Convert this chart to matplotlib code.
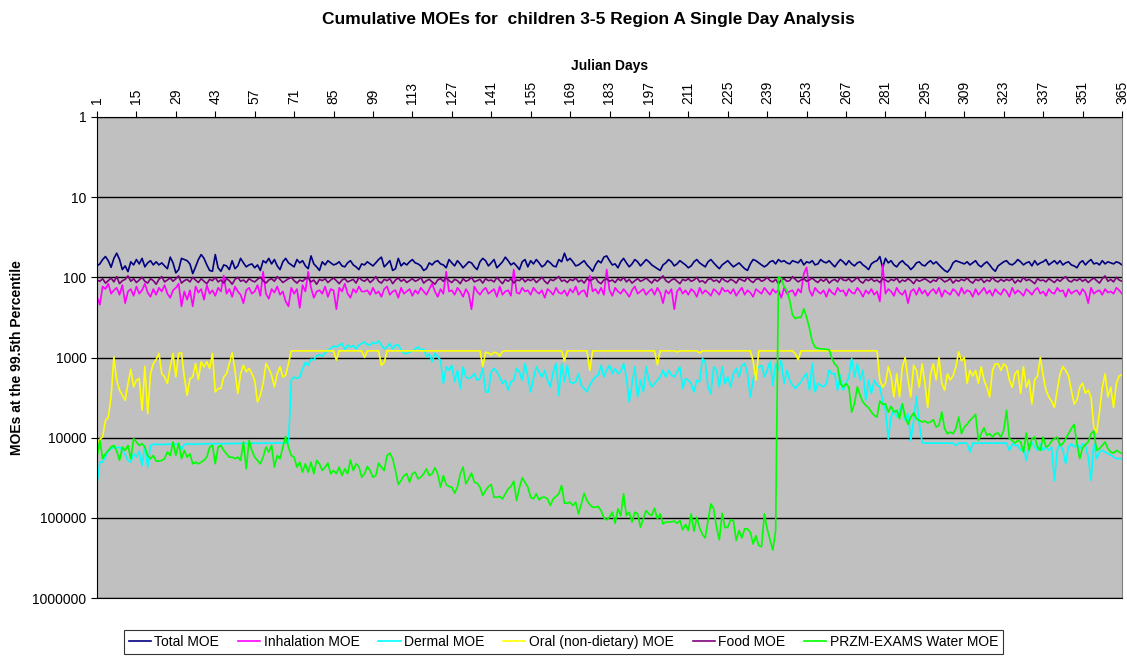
import matplotlib
matplotlib.use('Agg')
import matplotlib.pyplot as plt
import numpy as np
from matplotlib.ticker import FixedLocator, FuncFormatter, NullLocator

plt.rcParams['font.family'] = ['Liberation Sans', 'DejaVu Sans']

# Julian day MOE values, 365 per series
total_moe = [
    72, 68, 60, 55, 62, 75, 58, 50, 60, 80, 72, 85, 64, 70,
    60, 68, 58, 74, 66, 62, 70, 64, 70, 66, 72, 78, 56, 66,
    88, 80, 58, 60, 62, 68, 90, 74, 60, 52, 58, 70, 82, 84,
    52, 76, 84, 70, 72, 80, 62, 78, 72, 58, 66, 74, 70, 68,
    76, 70, 82, 62, 66, 58, 68, 60, 72, 80, 64, 58, 66, 70,
    74, 60, 66, 62, 72, 78, 54, 68, 74, 82, 64, 70, 62, 66,
    70, 68, 64, 72, 74, 66, 62, 70, 74, 80, 68, 70, 64, 68,
    72, 66, 60, 56, 74, 68, 62, 82, 78, 58, 72, 66, 70, 64,
    60, 66, 68, 72, 82, 78, 66, 70, 64, 62, 68, 70, 76, 60,
    66, 72, 62, 68, 76, 70, 64, 66, 74, 80, 64, 58, 62, 72,
    66, 60, 76, 70, 64, 56, 62, 70, 66, 72, 80, 64, 60, 74,
    62, 68, 60, 66, 74, 70, 62, 66, 72, 74, 60, 64, 50, 62,
    58, 64, 72, 70, 66, 62, 70, 76, 84, 70, 62, 66, 56, 54,
    62, 70, 68, 76, 64, 58, 66, 74, 68, 60, 64, 72, 66, 60,
    64, 70, 74, 78, 82, 70, 66, 60, 64, 72, 68, 62, 66, 70,
    76, 72, 64, 60, 66, 70, 74, 64, 60, 66, 72, 78, 70, 66,
    62, 68, 74, 70, 66, 72, 78, 82, 68, 60, 62, 66, 70, 74,
    70, 64, 62, 68, 60, 64, 62, 66, 68, 62, 64, 66, 60, 70,
    64, 66, 62, 70, 68, 60, 64, 66, 62, 68, 74, 66, 60, 64,
    70, 62, 68, 72, 66, 64, 70, 74, 80, 68, 64, 62, 55, 76,
    58, 66, 62, 70, 74, 66, 62, 68, 72, 80, 74, 66, 64, 70,
    72, 66, 62, 68, 64, 70, 76, 82, 86, 78, 66, 62, 64, 66,
    68, 64, 70, 66, 62, 70, 74, 68, 64, 70, 78, 84, 72, 68,
    64, 62, 68, 70, 66, 60, 64, 70, 66, 64, 72, 62, 70, 66,
    64, 60, 70, 66, 62, 68, 62, 70, 66, 64, 70, 72, 76, 66,
    62, 70, 64, 60, 68, 66, 70, 62, 68, 64, 66, 68, 64, 66,
    70,
]

inhalation_moe = [
    175, 220, 130, 140, 120, 160, 145, 135, 165, 125, 210, 150, 140, 170,
    130, 160, 145, 120, 155, 175, 140, 165, 135, 150, 125, 160, 180, 145,
    135, 120, 230, 150, 190, 145, 230, 130, 155, 140, 190, 125, 160, 145,
    170, 135, 150, 95, 160, 140, 175, 130, 150, 165, 210, 145, 135, 160,
    150, 125, 170, 85, 160, 185, 140, 155, 130, 165, 150, 200, 230, 135,
    160, 140, 240, 125, 150, 85, 135, 180, 150, 145, 160, 130, 175, 140,
    145, 250, 135, 150, 120, 160, 180, 140, 155, 130, 150, 150, 145, 165,
    135, 160, 150, 175, 140, 130, 165, 150, 145, 180, 135, 160, 150, 140,
    170, 145, 160, 135, 150, 165, 140, 120, 150, 175, 140, 160, 85, 150,
    145, 165, 135, 150, 175, 140, 160, 250, 130, 150, 165, 145, 135, 160,
    150, 140, 175, 130, 165, 150, 145, 170, 80, 155, 160, 135, 150, 145,
    165, 135, 150, 160, 145, 180, 140, 150, 165, 135, 155, 160, 145, 170,
    140, 155, 130, 165, 150, 145, 175, 95, 150, 140, 160, 135, 165, 80,
    145, 170, 135, 150, 160, 140, 155, 175, 145, 130, 160, 150, 140, 165,
    150, 140, 165, 135, 155, 210, 145, 160, 140, 250, 150, 135, 160, 145,
    165, 140, 150, 175, 135, 160, 145, 155, 170, 140, 150, 165, 135, 150,
    145, 160, 140, 170, 150, 135, 165, 145, 155, 175, 140, 150, 160, 135,
    150, 165, 140, 155, 145, 180, 135, 160, 150, 145, 170, 140, 155, 90,
    75, 145, 170, 135, 150, 160, 145, 175, 140, 155, 165, 135, 150, 145,
    170, 140, 155, 160, 135, 150, 175, 145, 160, 140, 165, 150, 200, 70,
    160, 140, 150, 170, 135, 155, 165, 145, 210, 150, 140, 165, 135, 160,
    145, 170, 150, 140, 160, 135, 175, 145, 155, 165, 140, 150, 170, 135,
    160, 145, 150, 175, 140, 165, 150, 135, 160, 145, 170, 140, 155, 165,
    140, 150, 175, 135, 160, 145, 155, 170, 140, 150, 165, 145, 135, 160,
    150, 170, 140, 155, 160, 135, 150, 145, 175, 140, 160, 150, 145, 165,
    140, 155, 210, 135, 160, 150, 145, 165, 140, 155, 150, 160, 135, 145,
    160,
]

dermal_moe = [
    37700, 20200, 20200, 17500, 14700, 13800, 13100, 13400, 13100, 14400, 16200, 19200, 20200, 15900,
    17500, 14700, 22200, 12500, 23300, 12500, 12100, 12100, 12100, 12200, 12100, 12100, 12100, 12000,
    12100, 12100, 14100, 12100, 12000, 12000, 12100, 12000, 12000, 12000, 11900, 12000, 11900, 11900,
    11900, 11900, 11900, 11900, 11800, 11900, 11800, 11800, 11800, 11800, 11800, 11800, 11800, 11700,
    11700, 11800, 11700, 11700, 11700, 11700, 11700, 11700, 11600, 11700, 11600, 11600, 11600, 1920,
    1750, 1830, 1750, 1400, 1150, 1250, 1050, 1070, 950, 930, 960, 880, 820, 770,
    720, 740, 700, 670, 800, 700, 740, 710, 780, 700, 670, 640, 690, 700,
    650, 670, 620, 700, 780, 740, 670, 780, 700, 700, 800, 890, 890, 860,
    830, 780, 740, 810, 780, 980, 900, 1130, 890, 980, 1080, 2110, 1310, 1440,
    1250, 2010, 1440, 2440, 1310, 1750, 1830, 1750, 1590, 1920, 1830, 1370, 2690, 2690,
    1510, 1370, 1510, 1750, 2110, 1920, 2560, 2010, 1920, 1370, 1510, 1920, 1190, 1750,
    2690, 1830, 1310, 1510, 1750, 1440, 1920, 2330, 1510, 1190, 2960, 1190, 2010, 1250,
    2010, 2110, 2010, 1590, 2220, 2440, 2690, 2220, 1920, 1750, 1660, 1250, 1750, 1440,
    1250, 1590, 1370, 1590, 1510, 1190, 1750, 3590, 2110, 1310, 3100, 1920, 2690, 1310,
    1920, 2330, 2110, 1920, 1750, 1440, 1750, 1440, 1660, 1750, 1510, 1310, 2440, 1830,
    1920, 2110, 2690, 1920, 2010, 1030, 1130, 2330, 2820, 1310, 1440, 2330, 1310, 2110,
    1750, 2330, 1590, 1370, 1750, 1250, 1190, 1590, 3100, 1920, 1440, 1310, 1250, 1750,
    1440, 1130, 2220, 1190, 1440, 1080, 2110, 1440, 1920, 2220, 2440, 2220, 2010, 1750,
    1590, 2560, 1190, 2690, 2110, 2220, 2330, 2110, 1440, 1590, 1590, 2560, 1660, 2560,
    2110, 1750, 1030, 1750, 1190, 1920, 1440, 3420, 1920, 2820, 1920, 2220, 2330, 3420,
    4560, 10300, 5520, 4560, 5520, 4560, 3760, 6080, 5020, 10800, 6080, 3100, 6690, 11400,
    11700, 11700, 11700, 11700, 11700, 11700, 11700, 11700, 11700, 11700, 11700, 12500, 11700, 11700,
    11700, 11700, 15100, 11700, 11700, 11700, 11700, 11700, 11700, 11700, 11700, 11700, 11700, 11700,
    11700, 11700, 14400, 11900, 12500, 12500, 14400, 13100, 19200, 13100, 11400, 13100, 14400, 11900,
    14400, 13100, 14400, 13100, 34200, 14400, 11900, 14400, 21100, 13100, 11900, 13100, 11900, 13700,
    11900, 12500, 17400, 34200, 11900, 18300, 15100, 14400, 15100, 15800, 16500, 17400, 18300, 18300,
    18300,
]

oral_moe = [
    12000, 10500, 9800, 6080, 5630, 3100, 980, 1920, 2560, 2960, 3420, 2110, 1410, 2330,
    1920, 1830, 4560, 1290, 5020, 1590, 1190, 1060, 890, 1590, 1750, 2110, 1310, 890,
    1750, 890, 875, 1750, 2960, 1830, 1750, 1190, 1890, 1130, 1310, 1130, 1370, 890,
    2690, 2440, 2440, 1750, 1590, 1190, 875, 1440, 2820, 1590, 1250, 1510, 1370, 1590,
    1920, 3590, 2960, 2110, 1190, 1370, 1660, 2330, 1590, 1310, 1750, 1660, 1190, 826,
    826, 826, 826, 826, 826, 826, 826, 826, 826, 826, 826, 826, 826, 826,
    826, 1080, 826, 826, 826, 826, 826, 826, 826, 826, 826, 1000, 826, 826,
    826, 826, 826, 1250, 1150, 826, 826, 826, 826, 826, 826, 826, 826, 826,
    826, 826, 826, 826, 826, 826, 826, 826, 826, 826, 826, 826, 826, 826,
    826, 826, 826, 826, 826, 826, 826, 826, 826, 826, 826, 1290, 860, 880,
    930, 860, 880, 960, 840, 826, 826, 826, 826, 826, 826, 826, 826, 826,
    826, 826, 826, 826, 826, 826, 826, 826, 826, 826, 826, 826, 1100, 826,
    826, 826, 826, 826, 826, 826, 826, 1450, 826, 826, 826, 826, 826, 826,
    826, 826, 826, 826, 826, 826, 826, 826, 826, 826, 826, 826, 826, 826,
    826, 826, 826, 1230, 826, 826, 826, 826, 826, 826, 850, 826, 826, 826,
    826, 826, 826, 826, 880, 826, 826, 826, 826, 826, 826, 826, 826, 826,
    826, 826, 826, 826, 826, 826, 826, 826, 826, 1100, 1920, 826, 826, 826,
    826, 826, 826, 826, 826, 826, 826, 826, 826, 826, 900, 1070, 826, 826,
    826, 826, 826, 826, 826, 826, 826, 826, 826, 826, 826, 826, 826, 826,
    826, 826, 826, 826, 826, 826, 826, 826, 826, 826, 826, 826, 1900, 2350,
    2100, 1300, 1700, 3100, 1600, 3100, 1300, 1000, 1900, 3100, 1250, 1450, 2350, 1200,
    2100, 4200, 1600, 1200, 1900, 1000, 2100, 2550, 1600, 1900, 1700, 1300, 850, 1100,
    1000, 2100, 1450, 1700, 1450, 2100, 1300, 1900, 2350, 3100, 1450, 1200, 1200, 1450,
    1200, 1300, 1900, 2350, 1600, 1450, 2800, 1300, 2350, 1900, 3800, 1900, 1700, 1000,
    1700, 2550, 3100, 3500, 4200, 2550, 1600, 1300, 1450, 1700, 2550, 3800, 3400, 2350,
    2100, 2800, 2550, 3100, 7400, 8600, 4800, 2350, 1600, 3100, 2350, 4200, 2100, 1700,
    1650,
]

food_moe = [
    108, 112, 104, 118, 110, 102, 114, 98, 120, 110, 106, 96, 112, 104,
    116, 108, 100, 112, 118, 104, 110, 122, 106, 98, 114, 108, 102, 112,
    104, 96, 118, 110, 106, 114, 100, 108, 116, 104, 112, 120, 106, 110,
    100, 114, 108, 118, 104, 110, 122, 106, 100, 112, 108, 116, 104, 110,
    114, 106, 100, 110, 118, 108, 104, 112, 98, 106, 116, 110, 104, 100,
    110, 118, 108, 112, 104, 100, 114, 108, 122, 106, 110, 104, 116, 108,
    102, 110, 120, 108, 104, 114, 110, 106, 118, 100, 108, 112, 104, 116,
    108, 98, 112, 118, 106, 110, 104, 120, 108, 102, 112, 106, 116, 110,
    104, 112, 108, 100, 118, 110, 106, 114, 122, 108, 104, 112, 100, 110,
    116, 106, 110, 120, 104, 112, 108, 100, 114, 110, 106, 118, 104, 110,
    108, 114, 100, 110, 120, 106, 112, 104, 118, 108, 110, 102, 114, 106,
    110, 104, 116, 108, 100, 112, 120, 106, 110, 104, 98, 112, 108, 116,
    106, 110, 102, 114, 108, 118, 104, 110, 106, 100, 114, 120, 108, 104,
    112, 108, 116, 104, 110, 100, 114, 106, 118, 110, 104, 112, 108, 102,
    110, 118, 106, 112, 104, 96, 110, 116, 108, 104, 112, 120, 106, 110,
    104, 112, 108, 100, 114, 110, 118, 106, 104, 112, 108, 116, 102, 110,
    114, 106, 110, 118, 104, 108, 112, 100, 110, 116, 106, 104, 112, 108,
    100, 110, 114, 106, 120, 108, 104, 112, 110, 98, 106, 114, 108, 104,
    112, 108, 102, 110, 116, 106, 112, 104, 118, 110, 106, 114, 100, 108,
    110, 104, 114, 108, 100, 112, 118, 106, 110, 104, 112, 108, 116, 104,
    108, 114, 106, 110, 102, 116, 108, 112, 104, 110, 120, 106, 112, 108,
    104, 110, 116, 108, 112, 100, 106, 114, 110, 104, 118, 108, 112, 106,
    110, 102, 112, 118, 106, 110, 104, 116, 108, 112, 100, 110, 114, 106,
    112, 106, 110, 104, 118, 108, 114, 100, 110, 106, 112, 120, 104, 110,
    108, 114, 104, 110, 116, 106, 112, 104, 98, 110, 114, 106, 110, 104,
    112, 106, 116, 108, 102, 110, 118, 104, 96, 112, 106, 114, 100, 108,
    112,
]

water_moe = [
    17500, 10800, 18300, 15900, 14400, 13100, 12500, 14700, 19200, 13100, 14400, 12500, 18300, 10300,
    11300, 12500, 11900, 13100, 16700, 18300, 16700, 19600, 19600, 19200, 18300, 15100, 16700, 11300,
    16700, 11700, 18300, 14400, 17500, 15900, 21200, 20200, 21200, 20200, 19200, 17500, 13100, 12500,
    21200, 13100, 12500, 14400, 15900, 17500, 17500, 18300, 17500, 19200, 11300, 24500, 10800, 14400,
    17500, 19200, 21200, 17500, 13100, 15100, 12500, 23300, 16700, 18300, 13100, 9640, 13100, 16700,
    17500, 23300, 20200, 26900, 21200, 26900, 20200, 28200, 19200, 21200, 25700, 23300, 20800, 28200,
    25700, 28200, 23300, 29700, 24500, 28200, 18900, 25700, 21200, 22900, 31100, 28200, 22900, 25700,
    31100, 29700, 20800, 23300, 25700, 16700, 15600, 18300, 25700, 38400, 34200, 29700, 28200, 35900,
    28200, 26900, 32600, 31100, 28200, 24500, 29700, 28200, 23700, 28200, 41400, 29700, 38400, 40700,
    41400, 49300, 41400, 28200, 23300, 37700, 32600, 27700, 35900, 36900, 41400, 52700, 45600, 40700,
    38400, 55300, 55300, 54200, 58000, 50200, 43500, 40700, 34900, 60800, 42300, 31700, 35900, 41400,
    55300, 58000, 50200, 59700, 55300, 55300, 58000, 70200, 58000, 54200, 50200, 39500, 65600, 65600,
    63800, 70200, 63800, 89300, 66900, 49300, 60800, 68200, 73600, 73600, 72300, 81100, 100000, 106000,
    98300, 85100, 117000, 77200, 93700, 50200, 93700, 85100, 113000, 85100, 89300, 131000, 103000, 81100,
    89300, 93700, 75800, 103000, 89300, 119000, 113000, 113000, 112000, 110000, 117000, 108000, 141000, 121000,
    144000, 89300, 147000, 98300, 133000, 161000, 178000, 108000, 66900, 77200, 131000, 188000, 87600, 133000,
    131000, 106000, 108000, 192000, 144000, 178000, 137000, 137000, 151000, 212000, 167000, 222000, 229000, 89300,
    137000, 188000, 252000, 144000, 100, 103, 130, 147, 195, 295, 327, 315, 318, 247,
    315, 430, 630, 740, 770, 780, 780, 790, 800, 1030, 1210, 1310, 2120, 2330,
    2120, 2330, 4790, 3770, 2330, 2960, 3590, 3950, 4230, 4790, 5270, 5530, 3490, 3850,
    3770, 4790, 4070, 4790, 4560, 5800, 3770, 5530, 6830, 5530, 4920, 5800, 6080, 6380,
    6200, 6560, 6380, 5960, 7370, 7020, 4790, 7730, 8930, 8510, 8930, 7730, 5530, 8930,
    7370, 6830, 6080, 5630, 5120, 10800, 8930, 7510, 9360, 8930, 9800, 8930, 8760, 9800,
    8130, 4560, 10300, 10800, 11700, 10800, 11300, 15100, 8760, 14400, 10300, 9800, 13100, 14400,
    9800, 13100, 12500, 11000, 10300, 9800, 12500, 11900, 10300, 8930, 7730, 6830, 11900, 18300,
    13400, 12200, 11300, 8930, 8270, 14400, 13700, 12500, 11300, 13700, 15100, 15600, 14400, 15100,
    15800,
]

series = [
    ('Total MOE', total_moe, '#000080'),
    ('Inhalation MOE', inhalation_moe, '#FF00FF'),
    ('Dermal MOE', dermal_moe, '#00FFFF'),
    ('Oral (non-dietary) MOE', oral_moe, '#FFFF00'),
    ('Food MOE', food_moe, '#800080'),
    ('PRZM-EXAMS Water MOE', water_moe, '#00FF00'),
]

day_ticks = list(range(1, 366, 14))

fig = plt.figure(figsize=(11.27, 6.58), dpi=100)
ax = fig.add_axes([97 / 1127, 1 - 598 / 658, (1122 - 97) / 1127, (598 - 117) / 658])
ax.set_facecolor('#C0C0C0')

for name, vals, col in series:
    days = np.arange(1, len(vals) + 1)
    ax.plot(days, vals, color=col, lw=1.2, label=name)

ax.set_yscale('log')
ax.set_ylim(1e6, 1)
ax.yaxis.set_major_locator(FixedLocator([1, 10, 100, 1000, 10000, 100000, 1000000]))
ax.yaxis.set_minor_locator(NullLocator())
ax.yaxis.set_major_formatter(FuncFormatter(lambda v, p: '%d' % round(v)))
ax.yaxis.grid(True, color='black', lw=1)
ax.set_axisbelow(True)

ax.set_xlim(1, 365)
ax.xaxis.tick_top()
ax.set_xticks(day_ticks)
ax.set_xticklabels([str(d) for d in day_ticks], rotation=90)
ax.xaxis.set_label_position('top')
ax.set_xlabel('Julian Days', fontweight='bold', fontsize=10, labelpad=8)
ax.set_ylabel('MOEs at the 99.5th Percentile', fontweight='bold', fontsize=10, labelpad=6)

ax.tick_params(axis='x', direction='out', length=4, labelsize=10, pad=5)
ax.tick_params(axis='y', direction='out', length=4, labelsize=10)

for s in ['left', 'top', 'bottom']:
    ax.spines[s].set_color('black')
ax.spines['right'].set_color('#808080')

fig.text(0.522, 0.982, 'Cumulative MOEs for  children 3-5 Region A Single Day Analysis',
         ha='center', va='top', fontsize=12.5, fontweight='bold')

leg = fig.legend(loc='lower center', bbox_to_anchor=(0.5, -0.004), ncol=6, fontsize=10,
                 frameon=True, fancybox=False, handlelength=1.6, handletextpad=0.25,
                 columnspacing=1.35, borderpad=0.35)
leg.get_frame().set_edgecolor('black')
leg.get_frame().set_linewidth(0.8)

fig.savefig('out.png', dpi=100)
